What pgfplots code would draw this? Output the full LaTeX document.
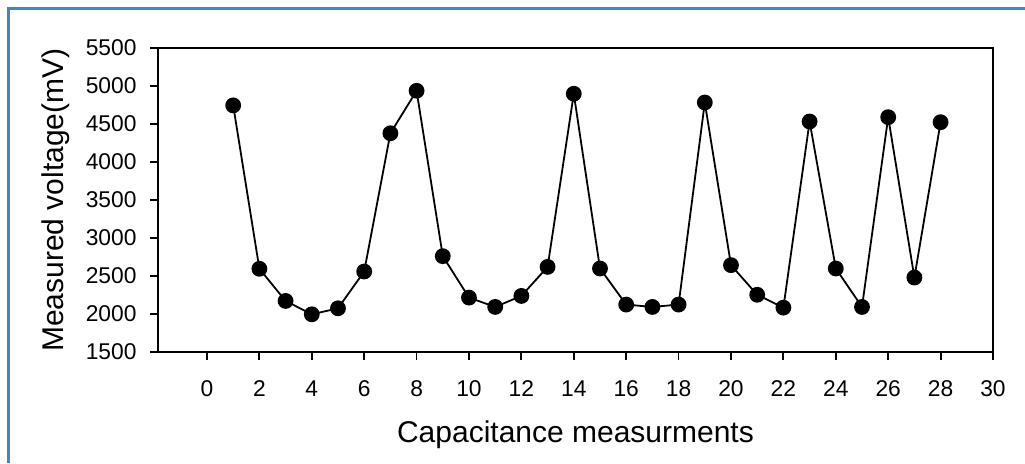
\documentclass[border=0pt]{standalone}
\usepackage{fontspec}
\setmainfont{Liberation Sans}
\usepackage{pgfplots}
\pgfplotsset{compat=1.18}
\definecolor{frameblue}{RGB}{79,129,189}
\begin{document}
\begin{tikzpicture}[x=1pt,y=1pt]
\path[use as bounding box] (-79,-55.5) rectangle (433.5,176);
\draw[frameblue, line width=1.5pt] (-74.75,-55.5) -- (-74.75,171.75) -- (433.5,171.75);
\begin{axis}[
  at={(0,0)}, anchor=south west,
  scale only axis, width=417.5pt, height=152pt,
  xmin=-1.87, xmax=30, ymin=1500, ymax=5500,
  xtick={0,2,...,30}, ytick={1500,2000,...,5500},
  xtick pos=left, ytick pos=left,
  tick align=outside, major tick length=3.75pt,
  every tick/.style={black, line width=0.9pt},
  axis line style={line width=1.2pt},
  /pgf/number format/1000 sep={},
  /pgf/number format/assume math mode=true,
  tick label style={font=\fontsize{11.4}{13}\selectfont},
  xticklabel style={anchor=base, yshift=-18.4pt, inner sep=0pt},
  yticklabel style={anchor=east, xshift=-6.8pt, inner sep=0pt},
  xlabel={Capacitance measurments},
  ylabel={Measured voltage(mV)},
  label style={font=\fontsize{15}{18}\selectfont},
  xlabel style={at={(axis description cs:0.5,-0.273)}, anchor=center},
  ylabel style={at={(axis description cs:-0.123,0.5)}, anchor=center, rotate=0},
]
\addplot[black, line width=0.9pt, mark=*, mark size=3.5pt, mark options={fill=black}] coordinates {
(1,4745) (2,2595) (3,2172) (4,1996) (5,2075) (6,2559) (7,4378) (8,4937)
(9,2761) (10,2216) (11,2093) (12,2238) (13,2620) (14,4898) (15,2599)
(16,2124) (17,2093) (18,2124) (19,4783) (20,2643) (21,2253) (22,2084)
(23,4533) (24,2599) (25,2093) (26,4590) (27,2480) (28,4524)
};
\end{axis}
\end{tikzpicture}
\end{document}
